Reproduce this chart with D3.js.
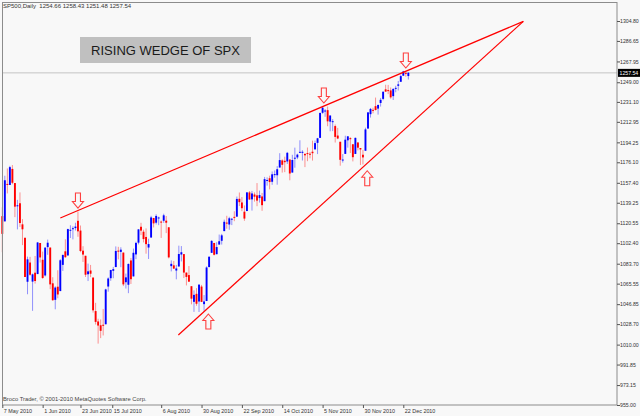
<!DOCTYPE html>
<html>
<head>
<meta charset="utf-8">
<script src="https://cdn.jsdelivr.net/npm/d3@7"></script>
<style>
  body { margin: 0; background: #f8f8f8; }
  svg { display: block; font-family: "Liberation Sans", Arial, sans-serif; }
</style>
</head>
<body>
<svg></svg>
<script>
var svgWidth = 640;
var svgHeight = 416;

// daily bars, 7 May 2010 .. 23 Dec 2010 (+ last broker bar)
var opens = [1127.04,1122.27,1156.39,1155.43,1170.04,1157.19,1136.52,1138.78,1119.57,1107.34,1067.26,1084.78,1067.42,1075.51,1074.27,1102.59,
  1087.30,1073.01,1098.82,1098.43,1065.84,1050.81,1062.75,1058.77,1082.65,1095.00,1091.21,1114.02,1115.98,1116.16,1122.79,1113.90,1095.57,1090.93,1074.10,1077.50,1071.10,1040.56,
  1031.10,1027.65,1028.09,1028.54,1062.92,1070.50,1077.23,1080.65,1095.61,1094.46,1093.85,1066.85,1064.53,1086.67,1072.14,1092.17,1102.89,1117.36,1112.84,1108.07,1098.44,
  1107.53,1125.34,1121.06,1125.78,1122.07,1122.80,1122.92,1116.89,1081.48,1082.22,1077.49,1081.16,1092.08,1092.44,1075.63,1073.36,1063.20,1048.98,1056.28,1049.27,1062.90,1046.88,
  1049.72,1080.66,1093.61,1102.60,1092.36,1101.15,1104.57,1113.38,1121.16,1119.43,1123.89,1126.39,1126.57,1142.82,1139.49,1131.10,1131.69,1148.64,1142.31,1146.75,1145.97,
  1143.49,1144.96,1140.68,1159.81,1161.57,1158.36,1165.32,1164.28,1171.32,1177.82,1177.47,1176.83,1178.64,1166.74,1179.82,1180.52,1184.74,1184.88,1183.84,1184.47,1183.87,
  1185.71,1187.86,1193.79,1198.34,1221.20,1223.24,1223.59,1213.14,1213.04,1209.07,1200.44,1194.79,1178.33,1183.75,1196.12,1198.07,1192.51,1183.70,1194.16,1189.08,1182.96,
  1186.60,1206.81,1219.93,1223.87,1227.25,1225.02,1230.14,1233.85,1242.52,1241.84,1241.58,1236.34,1243.63,1245.76,1249.43,1254.94,1257.53,1254.66];
var highs = [1135.13,1163.85,1170.48,1172.87,1173.57,1157.19,1141.88,1148.66,1124.27,1107.34,1090.16,1089.95,1074.75,1090.75,1103.52,1102.59,
  1094.77,1098.56,1105.67,1098.43,1071.36,1063.15,1077.74,1087.85,1092.25,1105.91,1115.59,1118.74,1117.72,1121.01,1131.23,1118.50,1099.64,1090.93,1083.80,1082.60,1071.10,1048.08,
  1033.58,1032.95,1042.50,1060.89,1071.25,1078.16,1080.78,1099.46,1099.08,1098.66,1093.85,1074.70,1083.94,1088.96,1097.50,1103.73,1115.01,1120.95,1114.66,1115.90,1106.44,
  1127.30,1125.44,1128.75,1126.56,1123.06,1129.24,1127.16,1116.89,1086.72,1086.25,1082.62,1100.14,1099.77,1092.44,1075.63,1081.58,1063.20,1059.38,1061.45,1065.21,1064.40,1055.14,
  1081.30,1090.10,1105.10,1102.60,1103.26,1110.27,1110.88,1123.87,1127.36,1126.46,1125.44,1131.47,1144.86,1148.59,1144.38,1136.77,1148.90,1149.92,1150.00,1148.63,1157.16,
  1150.30,1148.16,1162.76,1162.33,1163.87,1167.73,1168.68,1172.58,1184.38,1178.89,1181.20,1185.53,1178.64,1182.94,1189.43,1183.93,1196.14,1187.11,1183.84,1189.53,1185.46,
  1195.81,1195.88,1198.30,1221.25,1227.08,1224.57,1226.84,1218.75,1215.45,1210.50,1207.43,1194.79,1183.56,1200.29,1199.97,1198.94,1192.51,1198.62,1194.16,1189.08,1187.40,
  1207.61,1221.89,1225.57,1225.80,1235.05,1228.93,1234.71,1240.40,1246.73,1246.59,1244.25,1243.75,1245.81,1250.20,1255.82,1259.39,1258.59,1258.43];
var lows = [1094.15,1122.27,1147.71,1155.43,1156.14,1126.14,1114.96,1117.20,1100.66,1071.58,1055.90,1072.70,1040.78,1065.59,1074.27,1084.78,
  1069.89,1072.03,1091.81,1060.50,1049.86,1042.17,1052.25,1058.77,1077.12,1089.03,1091.21,1107.13,1105.87,1113.93,1108.24,1094.18,1085.31,1071.60,1067.89,1071.45,1039.16,1028.33,
  1010.91,1015.93,1018.35,1028.54,1058.24,1068.10,1070.45,1080.65,1087.68,1080.53,1063.32,1061.11,1056.88,1065.25,1072.14,1087.88,1101.30,1109.78,1103.11,1092.82,1088.01,
  1107.53,1116.76,1119.46,1118.81,1107.17,1120.91,1111.58,1088.55,1076.69,1079.00,1069.49,1081.16,1085.76,1070.66,1063.91,1067.08,1046.68,1039.83,1045.40,1039.70,1048.79,1040.88,
  1049.72,1080.39,1093.61,1091.15,1092.36,1101.15,1101.15,1113.38,1115.58,1114.63,1118.88,1122.43,1126.57,1136.22,1131.58,1122.79,1131.69,1142.00,1132.09,1140.26,1136.08,
  1139.42,1131.87,1140.68,1154.85,1151.41,1155.58,1162.02,1155.71,1171.32,1166.71,1167.12,1174.55,1159.71,1166.74,1171.17,1178.99,1184.74,1177.72,1171.70,1177.10,1179.70,
  1177.65,1187.86,1183.56,1198.34,1220.29,1217.55,1208.94,1204.33,1204.49,1194.08,1197.15,1173.00,1175.82,1183.75,1189.44,1184.58,1176.91,1183.70,1186.93,1173.64,1174.14,
  1186.60,1206.81,1216.82,1220.67,1223.25,1219.50,1226.85,1232.58,1240.34,1238.17,1234.01,1232.85,1239.87,1241.51,1249.43,1254.94,1254.05,1251.48];
var closes = [1110.88,1159.73,1155.79,1171.67,1157.44,1135.68,1136.94,1120.80,1115.05,1071.59,1087.69,1073.65,1074.03,1067.95,1103.06,1089.41,
  1070.71,1098.38,1102.83,1064.88,1050.47,1062.00,1055.69,1086.84,1091.60,1089.63,1115.23,1114.61,1116.04,1117.51,1113.20,1095.31,1092.04,1073.69,1076.76,1074.57,1041.24,1030.71,
  1027.37,1022.58,1028.06,1060.27,1070.25,1077.96,1078.75,1095.34,1095.17,1096.48,1064.88,1071.25,1083.48,1069.59,1093.67,1102.66,1115.01,1113.84,1106.13,1101.53,1101.60,
  1125.86,1120.46,1127.24,1125.81,1121.64,1127.79,1121.06,1089.47,1083.61,1079.25,1079.38,1092.54,1094.16,1075.63,1071.69,1067.36,1051.87,1055.33,1047.22,1064.59,1048.92,1049.33,
  1080.29,1090.10,1104.51,1091.84,1098.87,1104.18,1109.55,1121.90,1121.10,1125.07,1124.66,1125.59,1142.71,1139.78,1134.28,1124.83,1148.67,1142.16,1147.70,1144.73,1141.20,
  1146.24,1137.03,1160.75,1159.97,1158.06,1165.15,1165.32,1169.77,1178.10,1173.81,1176.19,1184.71,1165.90,1178.17,1180.26,1183.08,1185.62,1185.64,1182.45,1183.78,1183.26,
  1184.38,1193.57,1197.96,1221.06,1225.85,1223.25,1213.40,1218.71,1213.54,1199.21,1197.75,1178.34,1178.59,1196.69,1199.73,1197.84,1180.73,1198.35,1189.40,1187.76,1180.55,
  1206.07,1221.53,1224.71,1223.12,1223.75,1228.28,1233.00,1240.40,1240.46,1241.59,1235.23,1242.87,1243.91,1247.08,1254.60,1258.84,1256.77,1257.54];

var priceTicks = [1304.80,1286.65,1267.95,1249.00,1231.10,1212.95,1194.25,1176.10,1157.40,1139.25,
  1120.55,1102.40,1083.70,1065.55,1046.85,1028.70,1010.00,991.85,973.15,955.00];
var dateLabels = ['7 May 2010','1 Jun 2010','23 Jun 2010','15 Jul 2010','6 Aug 2010','30 Aug 2010',
  '22 Sep 2010','14 Oct 2010','5 Nov 2010','30 Nov 2010','22 Dec 2010'];
var dateTickBars = [0, 16, 31, 43.6, 63, 79, 95, 111, 127, 143, 159];

// wedge lines as [bar, price] end points
var upperLine = [[23.0, 1125.3], [206.6, 1304.5]];
var lowerLine = [[69.8, 1018.8], [206.6, 1304.5]];
// arrow tips: [bar, price, direction]
var arrows = [[30, 1134.4, 'down'], [127.5, 1230.1, 'down'], [160, 1262.0, 'down'],
  [81.7, 1037.9, 'up'], [144.7, 1168.4, 'up']];

var lastPrice = 1257.54;
var headerText = 'SP500,Daily  1254.66 1258.43 1251.48 1257.54';

var bars = opens.map((o, i) => ({ i: i, o: o, h: highs[i], l: lows[i], c: closes[i] }));

var xScale = d3.scaleLinear().domain([0, 159]).range([2.3, 403.3]);
var yScale = d3.scaleLinear().domain([955, 1304.80]).range([405, 21]);

var svg = d3.select('svg')
	.attr('width', svgWidth)
	.attr('height', svgHeight);

svg.append('rect')
	.attr('width', svgWidth)
	.attr('height', svgHeight)
	.attr('fill', '#f8f8f8');

// current price line
svg.append('line')
	.attr('x1', 2).attr('x2', 617)
	.attr('y1', yScale(lastPrice)).attr('y2', yScale(lastPrice))
	.attr('stroke', '#c4c4c4')
	.attr('stroke-width', 1);

// candles
var candle = svg.append('g').selectAll('g')
	.data(bars)
	.enter()
	.append('g');
candle.append('line')
	.attr('x1', d => xScale(d.i))
	.attr('x2', d => xScale(d.i))
	.attr('y1', d => yScale(d.h))
	.attr('y2', d => yScale(d.l))
	.attr('stroke', d => d.c >= d.o ? '#0000ff' : '#ff0000')
	.attr('stroke-opacity', 0.42)
	.attr('stroke-width', 1);
candle.append('rect')
	.attr('x', d => xScale(d.i) - 0.95)
	.attr('width', 1.9)
	.attr('y', d => yScale(Math.max(d.o, d.c)))
	.attr('height', d => Math.max(1, Math.abs(yScale(d.o) - yScale(d.c))))
	.attr('fill', d => d.c >= d.o ? '#0000ff' : '#ff0000');

// wedge
var line = d3.line().x(d => xScale(d[0])).y(d => yScale(d[1]));
[upperLine, lowerLine].forEach(function(pts) {
	svg.append('path')
		.attr('d', line(pts))
		.attr('fill', 'none')
		.attr('stroke', '#ff0000')
		.attr('stroke-width', 1.2);
});

// hollow arrows
function arrowPath(dir) {
	var s = dir == 'down' ? -1 : 1;
	return 'M0,0 L-5.5,' + (6.5 * s) + ' L-2.5,' + (6.5 * s) + ' L-2.5,' + (15 * s) +
		' L2.5,' + (15 * s) + ' L2.5,' + (6.5 * s) + ' L5.5,' + (6.5 * s) + ' Z';
}
svg.append('g').selectAll('path')
	.data(arrows)
	.enter()
	.append('path')
	.attr('transform', d => `translate(${xScale(d[0])},${yScale(d[1])})`)
	.attr('d', d => arrowPath(d[2]))
	.attr('fill', 'none')
	.attr('stroke', '#ff2020')
	.attr('stroke-opacity', 0.85)
	.attr('stroke-width', 1.1);

// frame
svg.append('rect')
	.attr('x', 2.5).attr('y', 2.5)
	.attr('width', 614.5).attr('height', 402.5)
	.attr('fill', 'none')
	.attr('stroke', '#8c8c8c')
	.attr('stroke-width', 1);

// price axis
var yAxis = d3.axisRight(yScale)
	.tickValues(priceTicks)
	.tickFormat(d3.format('.2f'))
	.tickSize(3)
	.tickPadding(0);
var yg = svg.append('g')
	.attr('transform', 'translate(617,0)')
	.call(yAxis);
yg.select('.domain').remove();
yg.selectAll('line').attr('stroke', '#555');
yg.selectAll('text')
	.attr('font-family', '"Liberation Sans", Arial, sans-serif')
	.attr('font-size', 5.2)
	.attr('fill', '#333');

// time axis
var xAxis = d3.axisBottom(xScale)
	.tickValues(dateTickBars)
	.tickFormat((d, i) => dateLabels[i])
	.tickSize(3)
	.tickSizeOuter(0);
var xg = svg.append('g')
	.attr('transform', 'translate(0,405)')
	.call(xAxis);
xg.select('.domain').remove();
xg.selectAll('line').attr('stroke', '#555');
xg.selectAll('text')
	.attr('font-family', '"Liberation Sans", Arial, sans-serif')
	.attr('font-size', 5.4)
	.attr('fill', '#333')
	.attr('text-anchor', 'start')
	.attr('x', 1)
	.attr('y', 4)
	.attr('dy', '0.71em');

// current price marker
svg.append('rect')
	.attr('x', 618).attr('y', yScale(lastPrice) - 4)
	.attr('width', 22).attr('height', 8)
	.attr('fill', '#000');
svg.append('text')
	.attr('x', 619.5).attr('y', yScale(lastPrice) + 2)
	.attr('font-size', 5.2)
	.attr('fill', '#fff')
	.text(d3.format('.2f')(lastPrice));

// header and footer
svg.append('text')
	.attr('x', 3).attr('y', 8)
	.attr('font-size', 6)
	.attr('fill', '#333')
	.attr('xml:space', 'preserve')
	.text(headerText);
svg.append('text')
	.attr('x', 3).attr('y', 401)
	.attr('font-size', 5.8)
	.attr('fill', '#444')
	.text('Broco Trader, \u00a9 2001-2010 MetaQuotes Software Corp.');

// label box
svg.append('rect')
	.attr('x', 80).attr('y', 37)
	.attr('width', 171).attr('height', 26)
	.attr('fill', '#c0c0c0');
svg.append('text')
	.attr('x', 165.5).attr('y', 55)
	.attr('text-anchor', 'middle')
	.attr('font-size', 13)
	.attr('fill', '#1a1a1a')
	.text('RISING WEDGE OF SPX');
</script>
</body>
</html>
